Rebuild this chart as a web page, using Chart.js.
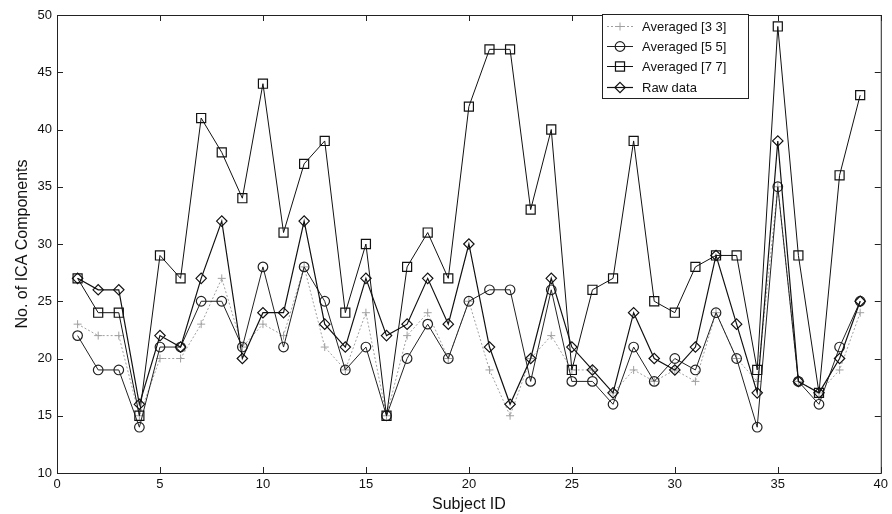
<!DOCTYPE html>
<html>
<head>
<meta charset="utf-8">
<script src="https://cdn.jsdelivr.net/npm/chart.js@4/dist/chart.umd.min.js"></script>
<style>
html,body{margin:0;padding:0;background:#fff;}
#wrap{width:892px;height:514px;position:relative;}
</style>
</head>
<body>
<div id="wrap"><canvas id="c" width="892" height="514"></canvas></div>
<script>
const subjects = [1,2,3,4,5,6,7,8,9,10,11,12,13,14,15,16,17,18,19,20,21,22,23,24,25,26,27,28,29,30,31,32,33,34,35,36,37,38,39];
const avg33 = [23,22,22,15,20,20,23,27,21,23,22,28,21,19,24,15,22,24,20,25,19,15,20,22,19,19,17,19,18,19,18,24,20,18,35,18,17,19,24];
const avg55 = [22,19,19,14,21,21,25,25,21,28,21,28,25,19,21,15,20,23,20,25,26,26,18,26,18,18,16,21,18,20,19,24,20,14,35,18,16,21,25];
const avg77 = [27,24,24,15,29,27,41,38,34,44,31,37,39,24,30,15,28,31,27,42,47,47,33,40,19,26,27,39,25,24,28,29,29,19,49,29,17,36,43];
const rawData = [27,26,26,16,22,21,27,32,20,24,24,32,23,21,27,22,23,27,23,30,21,16,20,27,21,19,17,24,20,19,21,29,23,17,39,18,17,20,25];
const seriesNames = ['Averaged [3 3]','Averaged [5 5]','Averaged [7 7]','Raw data'];
const xTicks = [0,5,10,15,20,25,30,35,40];
const yTicks = [10,15,20,25,30,35,40,45,50];

const toPts = arr => arr.map((v,i)=>({x:subjects[i], y:v}));
const FONT = '"Liberation Sans", Arial, sans-serif';

const datasets = [
  {label:seriesNames[0], data:toPts(avg33), borderColor:'#a0a0a0', borderWidth:1, borderDash:[2,2],
   pointStyle:'cross', pointRadius:4, pointBorderColor:'#a0a0a0', pointBackgroundColor:'rgba(0,0,0,0)', pointBorderWidth:1, order:4},
  {label:seriesNames[1], data:toPts(avg55), borderColor:'#222', borderWidth:1,
   pointStyle:'circle', pointRadius:4.8, pointBorderColor:'#222', pointBackgroundColor:'rgba(0,0,0,0)', pointBorderWidth:1.2, order:3},
  {label:seriesNames[2], data:toPts(avg77), borderColor:'#111', borderWidth:1,
   pointStyle:'rect', pointRadius:6.4, pointBorderColor:'#111', pointBackgroundColor:'rgba(0,0,0,0)', pointBorderWidth:1.2, order:2},
  {label:seriesNames[3], data:toPts(rawData), borderColor:'#111', borderWidth:1.2,
   pointStyle:'rectRot', pointRadius:5.2, pointBorderColor:'#111', pointBackgroundColor:'rgba(0,0,0,0)', pointBorderWidth:1.2, order:1}
];

const framePlugin = {
  id:'frame',
  afterDraw(chart){
    const {ctx, chartArea:a, scales:{x,y}} = chart;
    ctx.save();
    ctx.strokeStyle = '#222';
    ctx.lineWidth = 1;
    ctx.strokeRect(a.left+0.5, a.top+0.5, a.right-a.left, a.bottom-a.top);
    const L = 6;
    ctx.beginPath();
    xTicks.forEach(t=>{
      const px = Math.round(x.getPixelForValue(t))+0.5;
      ctx.moveTo(px, a.bottom); ctx.lineTo(px, a.bottom-L);
      ctx.moveTo(px, a.top); ctx.lineTo(px, a.top+L);
    });
    yTicks.forEach(t=>{
      const py = Math.round(y.getPixelForValue(t))+0.5;
      ctx.moveTo(a.left, py); ctx.lineTo(a.left+L, py);
      ctx.moveTo(a.right, py); ctx.lineTo(a.right-L, py);
    });
    ctx.stroke();
    ctx.restore();
  }
};

const legendPlugin = {
  id:'boxLegend',
  afterDraw(chart){
    const ctx = chart.ctx;
    const bx = 602, by = 14, bw = 146, bh = 84;
    ctx.save();
    ctx.fillStyle = '#fff';
    ctx.fillRect(bx, by, bw, bh);
    ctx.strokeStyle = '#222';
    ctx.lineWidth = 1;
    ctx.strokeRect(bx+0.5, by+0.5, bw, bh);
    ctx.font = '13px ' + FONT;
    ctx.textBaseline = 'middle';
    ctx.textAlign = 'left';
    const rows = [26, 46, 66, 87];
    chart.data.datasets.forEach((ds,i)=>{
      const yy = rows[i];
      ctx.strokeStyle = ds.borderColor;
      ctx.lineWidth = ds.borderWidth;
      ctx.setLineDash(ds.borderDash || []);
      ctx.beginPath(); ctx.moveTo(607, yy+0.5); ctx.lineTo(633, yy+0.5); ctx.stroke();
      ctx.setLineDash([]);
      ctx.strokeStyle = ds.pointBorderColor;
      ctx.lineWidth = ds.pointBorderWidth;
      ctx.beginPath();
      const r = ds.pointRadius, cx=620, cy=yy+0.5;
      if (ds.pointStyle==='cross'){ ctx.moveTo(cx-r,cy); ctx.lineTo(cx+r,cy); ctx.moveTo(cx,cy-r); ctx.lineTo(cx,cy+r); }
      else if (ds.pointStyle==='circle'){ ctx.arc(cx,cy,r,0,Math.PI*2); }
      else if (ds.pointStyle==='rect'){ const s=r*Math.SQRT1_2; ctx.rect(cx-s,cy-s,2*s,2*s); }
      else { ctx.moveTo(cx,cy-r); ctx.lineTo(cx+r,cy); ctx.lineTo(cx,cy+r); ctx.lineTo(cx-r,cy); ctx.closePath(); }
      ctx.stroke();
      ctx.fillStyle = '#111';
      ctx.fillText(ds.label, 642, yy+1);
    });
    ctx.restore();
  }
};

new Chart(document.getElementById('c'), {
  type:'line',
  data:{datasets},
  options:{
    responsive:false,
    animation:false,
    layout:{padding:{top:15, right:8, left:13, bottom:0}},
    plugins:{legend:{display:false}, tooltip:{enabled:false}},
    elements:{line:{tension:0}},
    scales:{
      x:{type:'linear', min:0, max:40,
        afterBuildTicks(s){ s.ticks = xTicks.map(v=>({value:v})); },
        afterFit(s){ s.height = 41; },
        grid:{display:false, drawTicks:false},
        border:{display:false},
        ticks:{color:'#111', font:{family:FONT, size:13}, padding:4, maxRotation:0, autoSkip:false},
        title:{display:true, text:'Subject ID', color:'#111', font:{family:FONT, size:16}, padding:{top:0,bottom:0}}
      },
      y:{type:'linear', min:10, max:50,
        afterBuildTicks(s){ s.ticks = yTicks.map(v=>({value:v})); },
        afterFit(s){ s.width = 44; },
        grid:{display:false, drawTicks:false},
        border:{display:false},
        ticks:{color:'#111', font:{family:FONT, size:13}, padding:5, autoSkip:false},
        title:{display:true, text:'No. of ICA Components', color:'#111', font:{family:FONT, size:16}, padding:{top:0,bottom:0}}
      }
    }
  },
  plugins:[framePlugin, legendPlugin]
});
</script>
</body>
</html>
